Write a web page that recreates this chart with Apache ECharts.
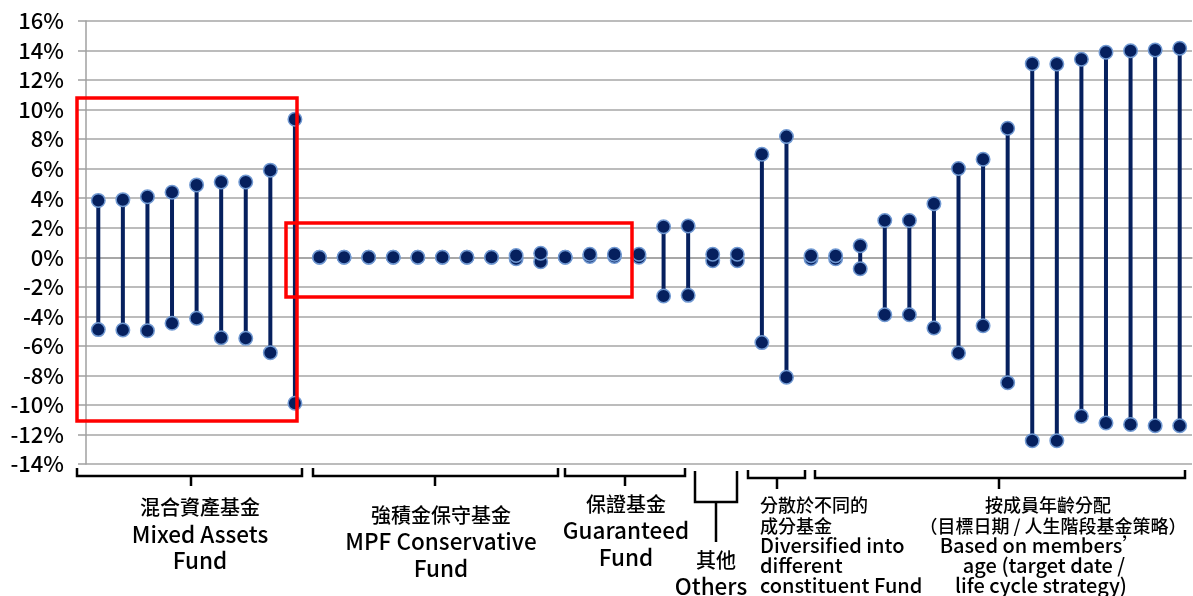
<!DOCTYPE html>
<html>
<head>
<meta charset="utf-8">
<script src="https://cdn.jsdelivr.net/npm/echarts@6/dist/echarts.min.js"></script>
<style>
html,body{margin:0;padding:0;background:#fff;}
#chart{width:1193px;height:596px;}
</style>
</head>
<body>
<div id="chart"></div>
<script>
// ---- Data (percent) ----
var categories = [
  'MA1','MA2','MA3','MA4','MA5','MA6','MA7','MA8','MA9',
  'MPF1','MPF2','MPF3','MPF4','MPF5','MPF6','MPF7','MPF8','MPF9','MPF10',
  'G1','G2','G3','G4','G5','G6',
  'O1','O2',
  'D1','D2',
  'A1','A2','A3','A4','A5','A6','A7','A8','A9','A10','A11','A12','A13','A14','A15','A16'
];
var highValues = [
  3.85, 3.9, 4.1, 4.4, 4.9, 5.1, 5.1, 5.9, 9.35,
  0, 0, 0, 0, 0, 0, 0, 0, 0.12, 0.27,
  0, 0.2, 0.2, 0.2, 2.07, 2.12,
  0.2, 0.2,
  6.98, 8.17,
  0.1, 0.1, 0.78, 2.49, 2.49, 3.62, 6.01, 6.64, 8.74, 13.11, 13.09, 13.41, 13.88, 13.99, 14.04, 14.15
];
var lowValues = [
  -4.9, -4.93, -4.97, -4.47, -4.13, -5.45, -5.49, -6.46, -9.89,
  0, 0, 0, 0, 0, 0, 0, 0, -0.1, -0.3,
  0, 0.05, 0.05, 0, -2.62, -2.58,
  -0.23, -0.23,
  -5.78, -8.13,
  -0.1, -0.1, -0.78, -3.89, -3.89, -4.79, -6.48, -4.64, -8.49, -12.42, -12.42, -10.77, -11.22, -11.32, -11.41, -11.41
];
var yTicks = { min: -14, max: 16, interval: 2 };

var groupLabels = [
  { lines: ['混合資產基金', 'Mixed Assets', 'Fund'] },
  { lines: ['強積金保守基金', 'MPF Conservative', 'Fund'] },
  { lines: ['保證基金', 'Guaranteed', 'Fund'] },
  { lines: ['其他', 'Others'] },
  { lines: ['分散於不同的', '成分基金', 'Diversified into', 'different', 'constituent Fund'] },
  { lines: ['按成員年齡分配', '（目標日期 / 人生階段基金策略）', 'Based on members’', 'age (target date /', 'life cycle strategy)'] }
];

// ---- Chart ----
var FONT = "'Noto Sans CJK TC', 'Noto Sans', sans-serif";
var NAVY = '#06205e';
var chart = echarts.init(document.getElementById('chart'), null, { renderer: 'canvas' });

var rangeData = categories.map(function (c, i) { return [i, lowValues[i], highValues[i]]; });

function txt(x, y, s, size, align) {
  return { type: 'text', x: x, y: y, silent: true,
    style: { text: s, fill: '#000', font: '500 ' + size + 'px ' + FONT, textAlign: align || 'center', textVerticalAlign: 'middle' } };
}
function pl(points) {
  return { type: 'polyline', silent: true, shape: { points: points },
    style: { stroke: '#000', lineWidth: 2.5, fill: null } };
}

var graphics = [
  // brackets
  pl([[77,468],[77,476],[302,476],[302,468]]), pl([[191,476],[191,486]]),
  pl([[313,468],[313,476],[558,476],[558,468]]), pl([[435,476],[435,486]]),
  pl([[565,468],[565,476],[685,476],[685,468]]), pl([[625,476],[625,486]]),
  pl([[695,471],[695,502],[737,502],[737,471]]), pl([[716,502],[716,542]]),
  pl([[748,470],[748,478],[805,478],[805,470]]), pl([[777,478],[777,489]]),
  pl([[815,470],[815,478],[1185,478],[1185,470]]), pl([[999,478],[999,489]]),
  // labels
  txt(200, 507, groupLabels[0].lines[0], 20), txt(200, 534, groupLabels[0].lines[1], 22.5), txt(200, 560, groupLabels[0].lines[2], 22.5),
  txt(441, 515, groupLabels[1].lines[0], 20), txt(441, 541, groupLabels[1].lines[1], 22.5), txt(441, 568, groupLabels[1].lines[2], 22.5),
  txt(626, 504, groupLabels[2].lines[0], 20), txt(626, 530, groupLabels[2].lines[1], 22.5), txt(626, 557, groupLabels[2].lines[2], 22.5),
  txt(716, 560, groupLabels[3].lines[0], 20), txt(711, 586, groupLabels[3].lines[1], 22.5),
  txt(760, 505, groupLabels[4].lines[0], 18, 'left'), txt(760, 526, groupLabels[4].lines[1], 18, 'left'),
  txt(760, 545, groupLabels[4].lines[2], 20, 'left'), txt(760, 565, groupLabels[4].lines[3], 20, 'left'), txt(760, 585, groupLabels[4].lines[4], 20, 'left'),
  txt(1048, 505, groupLabels[5].lines[0], 18), txt(1053, 526, groupLabels[5].lines[1], 18),
  txt(1041, 545, groupLabels[5].lines[2], 20), txt(1044, 565, groupLabels[5].lines[3], 20), txt(1041, 585, groupLabels[5].lines[4], 20),
  // red highlight boxes
  { type: 'rect', silent: true, z: 100, shape: { x: 77, y: 98, width: 220, height: 323 },
    style: { fill: null, stroke: '#ff0000', lineWidth: 3.5 } },
  { type: 'rect', silent: true, z: 100, shape: { x: 286, y: 223, width: 346, height: 74 },
    style: { fill: null, stroke: '#ff0000', lineWidth: 3.5 } }
];

var option = {
  animation: false,
  backgroundColor: '#ffffff',
  grid: { left: 86, right: 1, top: 21, bottom: 132, containLabel: false },
  xAxis: {
    type: 'category',
    data: categories,
    boundaryGap: true,
    axisLine: { show: true, lineStyle: { color: '#a0a0a0', width: 1.5 } },
    axisTick: { show: false },
    axisLabel: { show: false },
    splitLine: { show: false }
  },
  yAxis: {
    type: 'value',
    min: yTicks.min, max: yTicks.max, interval: yTicks.interval,
    axisLine: { show: true, lineStyle: { color: '#a0a0a0', width: 1.5 } },
    axisTick: { show: true, length: 8, lineStyle: { color: '#a0a0a0', width: 1.5 } },
    splitLine: { show: true, lineStyle: { color: '#a6a6a6', width: 1.5 } },
    axisLabel: { formatter: '{value}%', color: '#000', fontSize: 22, fontWeight: 500, fontFamily: FONT, margin: 22 }
  },
  series: [
    {
      type: 'custom',
      data: rangeData,
      encode: { x: 0, y: [1, 2] },
      z: 2,
      renderItem: function (params, api) {
        var lo = api.coord([api.value(0), api.value(1)]);
        var hi = api.coord([api.value(0), api.value(2)]);
        return { type: 'line', shape: { x1: lo[0], y1: lo[1], x2: hi[0], y2: hi[1] },
          style: { stroke: NAVY, lineWidth: 4 } };
      }
    },
    {
      type: 'scatter', data: lowValues, z: 3,
      symbol: 'circle', symbolSize: 13.5,
      itemStyle: { color: NAVY, borderColor: '#7199d2', borderWidth: 1.5, opacity: 1 }
    },
    {
      type: 'scatter', data: highValues, z: 4,
      symbol: 'circle', symbolSize: 13.5,
      itemStyle: { color: NAVY, borderColor: '#7199d2', borderWidth: 1.5, opacity: 1 }
    }
  ],
  graphic: graphics
};
chart.setOption(option);
</script>
</body>
</html>
